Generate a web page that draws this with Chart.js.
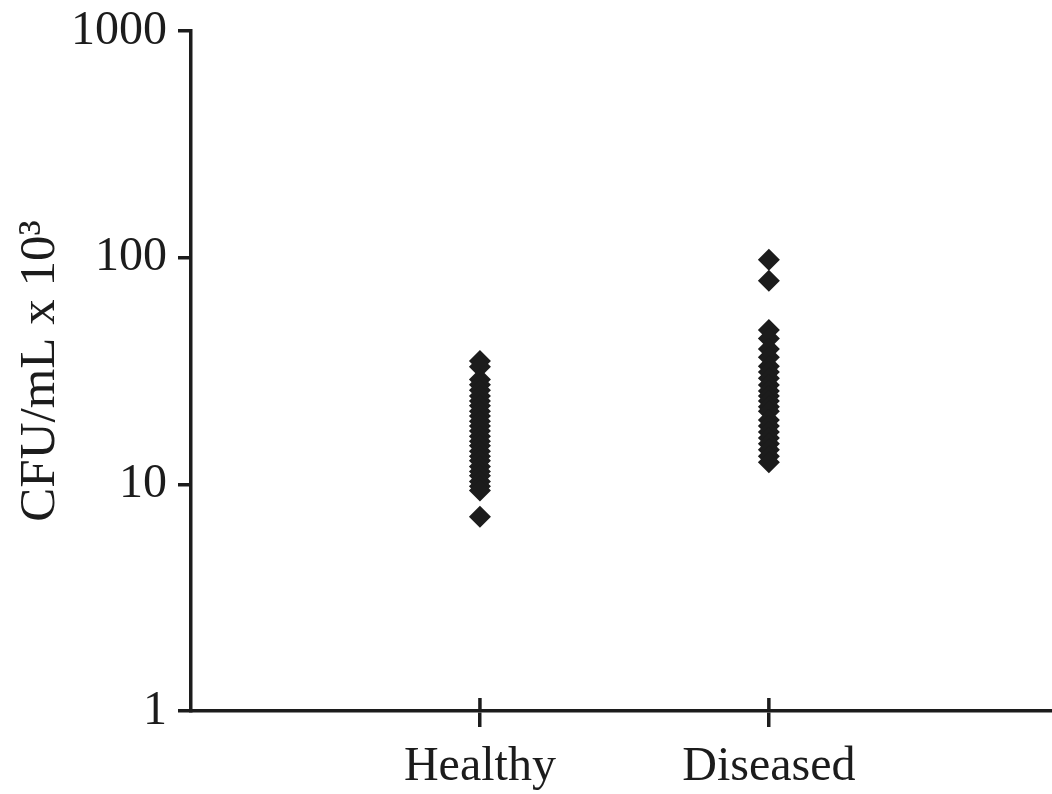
<!DOCTYPE html>
<html>
<head>
<meta charset="utf-8">
<script src="https://cdn.jsdelivr.net/npm/chart.js@4"></script>
<style>
  html, body { margin: 0; padding: 0; background: #fff; }
  #wrap { width: 1052px; height: 794px; }
</style>
</head>
<body>
<div id="wrap"><canvas id="cfuChart" width="1052" height="794"></canvas></div>
<script>
// groups on the x axis
const categories = ["Healthy", "Diseased"];

// CFU/mL x 10^3
const healthyValues = [35, 33, 29, 27.5, 26, 24.5, 23.3, 22.2, 21, 20, 19, 18.1, 17.2, 16.3, 15.5, 14.8, 14, 13.3, 12.7, 12, 11.4, 10.9, 10.3, 9.8, 9.4, 7.2];
const diseasedValues = [98, 79, 48, 44, 39.5, 36.4, 33.2, 31.3, 29.4, 27.4, 25.8, 24.5, 23.3, 22, 21, 19.2, 18.1, 17, 16, 15.1, 14.2, 13.3, 12.5];

const yTicks = [1, 10, 100, 1000];

const ink = "#1c1c1c";
const serif = "'Liberation Serif', 'DejaVu Serif', serif";

// x tick marks cross the axis line, chart.js only draws the part below
const crossTicks = {
    id: 'crossTicks',
    afterDraw(chart) {
        const x = chart.scales.x;
        const c = chart.ctx;
        c.save();
        c.strokeStyle = ink;
        c.lineWidth = 3.5;
        x.ticks.forEach(t => {
            const px = x.getPixelForValue(t.value);
            c.beginPath();
            c.moveTo(px, x.top - 13);
            c.lineTo(px, x.top);
            c.stroke();
        });
        c.restore();
    }
};

const ctx = document.getElementById('cfuChart').getContext('2d');

const chart = new Chart(ctx, {
    type: 'scatter',
    data: {
        datasets: [{
            label: categories[0],
            data: healthyValues.map(v => ({ x: 1, y: v }))
        }, {
            label: categories[1],
            data: diseasedValues.map(v => ({ x: 2, y: v }))
        }]
    },
    options: {
        responsive: false,
        animation: false,
        layout: { autoPadding: false, padding: { top: 31, right: 0, bottom: 0, left: 0 } },
        elements: {
            point: {
                pointStyle: 'rectRot',
                radius: 11,
                backgroundColor: ink,
                borderWidth: 0
            }
        },
        plugins: {
            legend: { display: false },
            tooltip: { enabled: false }
        },
        scales: {
            x: {
                type: 'linear',
                min: 0,
                max: 2.98,
                afterBuildTicks: s => { s.ticks = [{ value: 1 }, { value: 2 }]; },
                afterFit: s => { s.height = 83; },
                border: { display: true, color: ink, width: 3.5 },
                grid: { drawOnChartArea: false, drawTicks: true, tickLength: 16, lineWidth: 3.5, color: ink },
                ticks: {
                    padding: 12,
                    color: ink,
                    font: { family: serif, size: 48 },
                    callback: v => categories[v - 1]
                }
            },
            y: {
                type: 'logarithmic',
                min: 1,
                max: 1000,
                afterBuildTicks: s => { s.ticks = yTicks.map(v => ({ value: v })); },
                afterFit: s => {
                    s.width = 191;
                    s.paddingTop = 0;
                    s.paddingBottom = 0;
                },
                border: { display: true, color: ink, width: 3.5 },
                grid: { drawOnChartArea: false, drawTicks: true, tickLength: 13, lineWidth: 3.5, color: ink },
                ticks: {
                    padding: 11,
                    color: ink,
                    font: { family: serif, size: 48 },
                    callback: v => String(v)
                },
                title: {
                    display: true,
                    text: 'CFU/mL x 10³',
                    color: ink,
                    font: { family: serif, size: 51 },
                    padding: { top: 10, bottom: 0 }
                }
            }
        }
    },
    plugins: [crossTicks]
});
</script>
</body>
</html>
